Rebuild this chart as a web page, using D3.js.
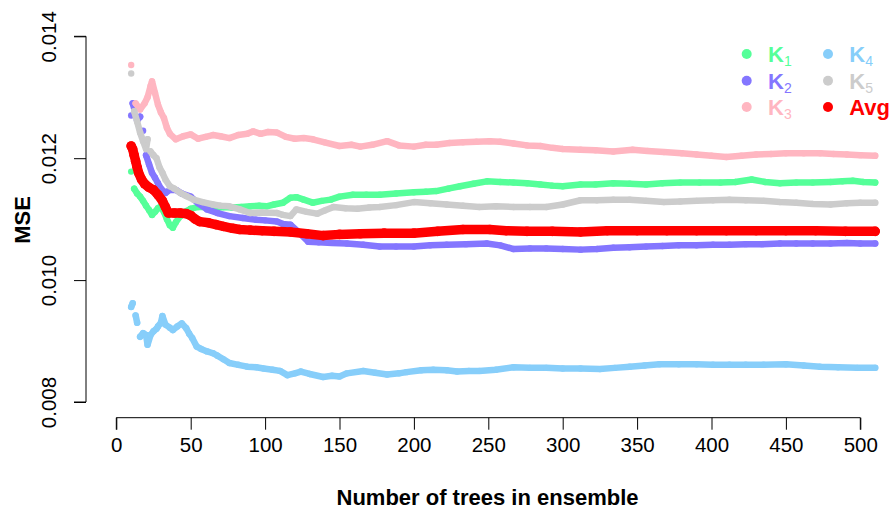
<!DOCTYPE html>
<html>
<head>
<meta charset="utf-8">
<script src="https://cdn.jsdelivr.net/npm/d3@7"></script>
<style>
  html, body { margin: 0; padding: 0; background: #fff; }
  svg { display: block; font-family: "Liberation Sans", Arial, sans-serif; }
</style>
</head>
<body>
<div id="chart"></div>
<script>
// values, [trees, MSE]
const k1 = [[10,0.01178],[12,0.01150],[14,0.01142],[16,0.01137],[18,0.01130],[20,0.01122],[22,0.01115],[24,0.01107],[26,0.01112],[28,0.01118],[30,0.01121],[32,0.01112],[34,0.01100],[36,0.01090],[38,0.01086],[40,0.01095],[43,0.01105],[46,0.01112],[50,0.01117],[55,0.01120],[60,0.01120],[66,0.01118],[72,0.01120],[78,0.01119],[84,0.01120],[90,0.01121],[96,0.01122],[101,0.01121],[106,0.01124],[112,0.01127],[117,0.01135],[121,0.01136],[126,0.01132],[132,0.01127],[138,0.01130],[144,0.01132],[150,0.01137],[159,0.01140],[168,0.01140],[177,0.01140],[188,0.01142],[200,0.01144],[208,0.01145],[215,0.01146],[223,0.01150],[231,0.01154],[240,0.01158],[249,0.01162],[258,0.01161],[267,0.01160],[276,0.01159],[285,0.01157],[293,0.01155],[300,0.01154],[312,0.01157],[322,0.01157],[334,0.01159],[345,0.01158],[356,0.01157],[367,0.01159],[379,0.01160],[392,0.01160],[406,0.01160],[416,0.01161],[427,0.01165],[436,0.01161],[446,0.01159],[457,0.01160],[468,0.01160],[480,0.01161],[488,0.01162],[495,0.01163],[502,0.01161],[510,0.01160]];
const k2 = [[10,0.01270],[11,0.01290],[12,0.01282],[14,0.01262],[16,0.01268],[18,0.01245],[19,0.01225],[20,0.01205],[22,0.01190],[24,0.01176],[26,0.01168],[28,0.01159],[30,0.01150],[33,0.01143],[36,0.01148],[40,0.01148],[44,0.01142],[50,0.01137],[55,0.01126],[61,0.01116],[68,0.01110],[76,0.01105],[85,0.01102],[94,0.01099],[100,0.01098],[108,0.01096],[112,0.01092],[117,0.01091],[122,0.01080],[129,0.01063],[136,0.01062],[145,0.01061],[155,0.01060],[166,0.01058],[177,0.01055],[188,0.01055],[200,0.01055],[211,0.01057],[222,0.01058],[235,0.01059],[249,0.01060],[258,0.01057],[267,0.01051],[278,0.01052],[289,0.01052],[300,0.01051],[312,0.01050],[323,0.01051],[334,0.01053],[345,0.01054],[356,0.01055],[367,0.01056],[378,0.01057],[390,0.01057],[401,0.01058],[412,0.01058],[423,0.01059],[434,0.01059],[446,0.01060],[457,0.01060],[468,0.01060],[480,0.01060],[491,0.01061],[500,0.01060],[510,0.01060]];
const k3 = [[10,0.01353],[13,0.01290],[16,0.01280],[19,0.01290],[21,0.01300],[23,0.01318],[24,0.01326],[26,0.01307],[28,0.01288],[30,0.01275],[32,0.01266],[34,0.01250],[36,0.01240],[40,0.01231],[45,0.01236],[50,0.01239],[55,0.01232],[60,0.01235],[65,0.01238],[70,0.01236],[76,0.01233],[82,0.01238],[88,0.01240],[92,0.01244],[97,0.01240],[102,0.01243],[108,0.01242],[114,0.01235],[120,0.01232],[126,0.01233],[132,0.01231],[140,0.01226],[150,0.01220],[158,0.01222],[164,0.01219],[172,0.01222],[182,0.01228],[190,0.01221],[200,0.01219],[208,0.01222],[215,0.01222],[224,0.01225],[233,0.01226],[242,0.01227],[251,0.01228],[258,0.01227],[267,0.01224],[276,0.01221],[285,0.01220],[293,0.01217],[300,0.01215],[312,0.01214],[322,0.01213],[334,0.01211],[347,0.01214],[357,0.01212],[368,0.01210],[380,0.01208],[390,0.01206],[400,0.01204],[410,0.01202],[420,0.01204],[430,0.01206],[440,0.01207],[450,0.01208],[462,0.01208],[473,0.01208],[482,0.01207],[491,0.01206],[500,0.01205],[510,0.01204]];
const k4 = [[10,0.00956],[11,0.00962],[13,0.00942],[14,0.00930],[16,0.00907],[18,0.00913],[20,0.00910],[21,0.00894],[23,0.00910],[25,0.00916],[27,0.00920],[28,0.00924],[30,0.00930],[31,0.00941],[33,0.00927],[36,0.00922],[38,0.00918],[41,0.00924],[44,0.00929],[47,0.00921],[49,0.00912],[51,0.00905],[54,0.00891],[57,0.00887],[61,0.00883],[65,0.00880],[68,0.00876],[72,0.00870],[76,0.00864],[82,0.00861],[88,0.00858],[94,0.00857],[99,0.00855],[105,0.00853],[110,0.00851],[115,0.00844],[120,0.00847],[124,0.00850],[130,0.00846],[139,0.00841],[145,0.00843],[150,0.00842],[155,0.00847],[166,0.00851],[174,0.00848],[182,0.00845],[190,0.00847],[195,0.00849],[205,0.00852],[213,0.00853],[222,0.00852],[229,0.00850],[237,0.00851],[244,0.00851],[255,0.00853],[267,0.00857],[278,0.00856],[289,0.00856],[300,0.00855],[312,0.00855],[325,0.00854],[335,0.00856],[345,0.00858],[355,0.00860],[365,0.00862],[378,0.00862],[390,0.00862],[401,0.00861],[412,0.00861],[423,0.00861],[435,0.00861],[450,0.00862],[462,0.00860],[473,0.00858],[485,0.00857],[498,0.00856],[510,0.00856]];
const k5 = [[10,0.01339],[12,0.01277],[14,0.01260],[16,0.01242],[18,0.01228],[20,0.01215],[21,0.01231],[23,0.01211],[25,0.01205],[27,0.01200],[29,0.01185],[31,0.01176],[33,0.01165],[36,0.01154],[39,0.01150],[43,0.01143],[47,0.01138],[52,0.01132],[58,0.01128],[65,0.01124],[70,0.01122],[76,0.01121],[83,0.01116],[90,0.01110],[98,0.01111],[108,0.01110],[112,0.01107],[117,0.01105],[121,0.01116],[128,0.01112],[135,0.01109],[140,0.01114],[146,0.01120],[154,0.01118],[162,0.01117],[170,0.01119],[177,0.01120],[188,0.01123],[200,0.01128],[211,0.01126],[222,0.01124],[233,0.01122],[244,0.01120],[255,0.01121],[267,0.01120],[278,0.01120],[289,0.01120],[300,0.01124],[312,0.01131],[323,0.01131],[334,0.01132],[345,0.01132],[356,0.01130],[368,0.01128],[379,0.01129],[390,0.01130],[401,0.01131],[412,0.01132],[423,0.01131],[435,0.01130],[446,0.01128],[457,0.01127],[468,0.01125],[480,0.01124],[491,0.01126],[500,0.01127],[510,0.01127]];
const avg = [[10,0.01220],[11,0.01215],[12,0.01205],[13,0.01195],[14,0.01185],[15,0.01176],[17,0.01165],[19,0.01158],[22,0.01152],[25,0.01148],[28,0.01140],[31,0.01130],[33,0.01120],[35,0.01110],[39,0.01110],[43,0.01110],[47,0.01109],[50,0.01106],[53,0.01100],[56,0.01096],[62,0.01094],[67,0.01091],[72,0.01088],[78,0.01085],[83,0.01083],[90,0.01082],[98,0.01081],[106,0.01080],[117,0.01079],[128,0.01076],[139,0.01073],[150,0.01075],[164,0.01076],[180,0.01077],[200,0.01077],[216,0.01080],[233,0.01083],[251,0.01083],[262,0.01081],[276,0.01080],[293,0.01080],[312,0.01079],[330,0.01081],[350,0.01081],[370,0.01081],[390,0.01081],[410,0.01081],[430,0.01081],[450,0.01081],[470,0.01081],[490,0.01080],[510,0.01080]];

const seriesNames = ["K1", "K2", "K3", "K4", "K5", "Avg"];
const seriesColors = ["#55ff99", "#8476ff", "#ffb6c1", "#87cefa", "#cccccc", "#ff0000"];
const xTicks = [0, 50, 100, 150, 200, 250, 300, 350, 400, 450, 500];
const yTicks = [0.008, 0.010, 0.012, 0.014];

const allSeries = [k1, k2, k3, k4, k5, avg];

const width = 890, height = 511;

const svg = d3.select("#chart")
    .append("svg")
    .attr("width", width)
    .attr("height", height);

const x = d3.scaleLinear().domain([0, 500]).range([116.3, 860.3]);
const y = d3.scaleLinear().domain([0.008, 0.014]).range([402, 36.3]);

// series: thick line through consecutive readings plus a dot at each one
allSeries.forEach((data, i) => {
    const isAvg = seriesNames[i] === "Avg";
    const color = seriesColors[i];
    const g = svg.append("g");

    // split where the curve jumps, so stray early points stay isolated
    const runs = [];
    let run = [data[0]];
    for (let j = 1; j < data.length; j++) {
        if (Math.abs(y(data[j][1]) - y(data[j - 1][1])) > 12) {
            runs.push(run);
            run = [];
        }
        run.push(data[j]);
    }
    runs.push(run);

    const line = d3.line().x(d => x(d[0])).y(d => y(d[1]));

    g.selectAll("path")
        .data(runs.filter(r => r.length > 1))
        .enter()
        .append("path")
        .attr("d", line)
        .attr("fill", "none")
        .attr("stroke", color)
        .attr("stroke-width", isAvg ? 9.5 : 6.5)
        .attr("stroke-linejoin", "round")
        .attr("stroke-linecap", "round");

    g.selectAll("circle")
        .data(data)
        .enter()
        .append("circle")
        .attr("cx", d => x(d[0]))
        .attr("cy", d => y(d[1]))
        .attr("r", isAvg ? 4.8 : 3.2)
        .attr("fill", color);
});

// x axis
const xAxis = svg.append("g")
    .attr("transform", "translate(0,417.7)")
    .call(d3.axisBottom(x).tickValues(xTicks).tickSize(12).tickPadding(8).tickFormat(d3.format("d")));
xAxis.select(".domain").attr("d", `M${x(0)},12V0H${x(500)}V12`);
xAxis.selectAll("text").attr("font-size", "20.5px").attr("font-family", "Liberation Sans, Arial, sans-serif").attr("fill", "#000");
xAxis.selectAll("line, path").attr("stroke", "#000");

// y axis
const yAxis = svg.append("g")
    .attr("transform", "translate(86,0)")
    .call(d3.axisLeft(y).tickValues(yTicks).tickSize(12).tickFormat(d3.format(".3f")));
yAxis.select(".domain").attr("d", `M-12,${y(0.008)}H0V${y(0.014)}H-12`);
yAxis.selectAll("line, path").attr("stroke", "#000");
yAxis.selectAll("text")
    .attr("font-size", "20.5px")
    .attr("font-family", "Liberation Sans, Arial, sans-serif")
    .attr("fill", "#000")
    .attr("x", null)
    .attr("dy", null)
    .attr("text-anchor", "middle")
    .attr("transform", d => `translate(-30,0) rotate(-90)`);

// axis titles
svg.append("text")
    .attr("x", 487.5)
    .attr("y", 505)
    .attr("text-anchor", "middle")
    .attr("font-size", "22px")
    .attr("font-weight", "bold")
    .text("Number of trees in ensemble");

svg.append("text")
    .attr("transform", "translate(30,220) rotate(-90)")
    .attr("text-anchor", "middle")
    .attr("font-size", "22px")
    .attr("font-weight", "bold")
    .text("MSE");

// legend, two columns of three
const legendCol = [746.7, 828];
const legendRow = [54, 80.7, 107];
const legend = svg.append("g");
seriesNames.forEach((name, i) => {
    const cx = legendCol[Math.floor(i / 3)];
    const cy = legendRow[i % 3];
    legend.append("circle")
        .attr("cx", cx)
        .attr("cy", cy)
        .attr("r", 5)
        .attr("fill", seriesColors[i]);
    const t = legend.append("text")
        .attr("x", cx + 21.3)
        .attr("y", cy + 7.8)
        .attr("font-size", "22px")
        .attr("font-weight", "bold")
        .attr("fill", seriesColors[i]);
    if (name === "Avg") {
        t.text(name);
    } else {
        t.append("tspan").text(name[0]);
        t.append("tspan")
            .attr("dy", 4.5)
            .attr("font-size", "14px")
            .attr("font-weight", "normal")
            .text(name.slice(1));
    }
});
</script>
</body>
</html>
